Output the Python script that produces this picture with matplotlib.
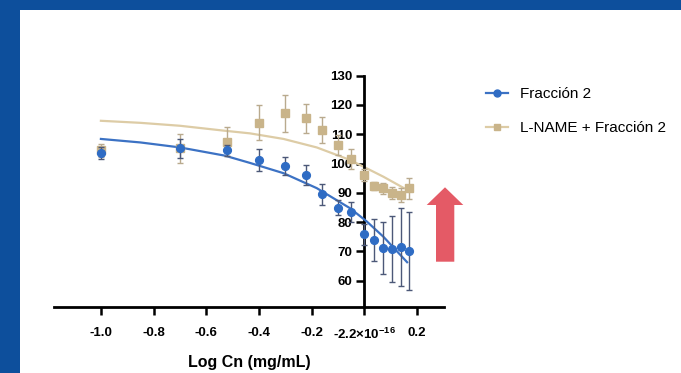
import matplotlib
matplotlib.use('Agg')
import matplotlib.pyplot as plt
from matplotlib.patches import Rectangle, Polygon
from matplotlib.lines import Line2D

plt.rcParams['font.family'] = ['Liberation Sans', 'DejaVu Sans']
plt.rcParams['mathtext.fontset'] = 'custom'
plt.rcParams['mathtext.rm'] = 'Liberation Sans:bold'
plt.rcParams['mathtext.it'] = 'Liberation Sans:bold'
plt.rcParams['mathtext.bf'] = 'Liberation Sans:bold'
plt.rcParams['axes.unicode_minus'] = False

# ---- data ----
log_conc = [-1.0, -0.7, -0.52, -0.4, -0.3, -0.22, -0.16, -0.1, -0.05, 0.0, 0.035, 0.072, 0.106, 0.138, 0.168]

fraccion2_mean = [103.6, 105.2, 104.6, 101.2, 99.2, 96.1, 89.5, 84.9, 83.6, 75.8, 73.9, 71.1, 70.8, 71.4, 70.2]
fraccion2_err = [2.0, 3.2, 1.9, 3.7, 3.1, 3.4, 3.5, 2.6, 3.4, 3.5, 7.1, 8.8, 11.3, 13.3, 13.4]

lname_mean = [104.5, 105.2, 107.5, 114.0, 117.2, 115.5, 111.5, 106.3, 101.5, 96.1, 92.3, 91.5, 90.0, 89.3, 91.5]
lname_err = [2.2, 4.9, 4.9, 6.1, 6.3, 5.0, 4.4, 3.5, 3.3, 2.0, 1.5, 2.0, 2.0, 2.5, 3.6]

# fitted curves
fraccion2_fit_x = [-1.0, -0.85, -0.7, -0.53, -0.434, -0.307, -0.181, -0.054, 0.009, 0.072, 0.162]
fraccion2_fit_y = [108.4, 107.2, 105.5, 102.7, 100.2, 96.7, 91.6, 84.7, 80.2, 75.0, 66.3]
lname_fit_x = [-1.0, -0.85, -0.7, -0.53, -0.434, -0.307, -0.181, -0.054, 0.072, 0.15]
lname_fit_y = [114.6, 113.9, 112.9, 111.2, 110.3, 108.4, 105.5, 101.2, 95.5, 91.6]

series_labels = ['Fracción 2', 'L-NAME + Fracción 2']
x_ticks = [-1.0, -0.8, -0.6, -0.4, -0.2, 0.0, 0.2]
x_tick_labels = ['-1.0', '-0.8', '-0.6', '-0.4', '-0.2', '-2.2×10$^{-16}$', '0.2']
y_ticks = [60, 70, 80, 90, 100, 110, 120, 130]
x_label = 'Log Cn (mg/mL)'

# ---- styling ----
W, H = 681, 373
BLUE = '#2f6cc4'
BLUE_LINE = '#3c72c4'
BLUE_ERR = '#4c5878'
TAN = '#c9b48a'
TAN_LINE = '#ddcca6'
TAN_ERR = '#b9aa8e'

fig = plt.figure(figsize=(W / 100, H / 100), dpi=100)
fig.patch.set_facecolor('#0d4f9c')
fig.patches.append(Rectangle((20 / W, 0), 1 - 20 / W, 1 - 10 / H, transform=fig.transFigure,
                             facecolor='white', edgecolor='none', zorder=-10))

ax = fig.add_axes([54 / W, 1 - 306.7 / H, 390 / W, (306.7 - 75.7) / H])
ax.set_zorder(2)
ax.set_facecolor('none')
ax.set_xlim(-1.178, 0.302)
ax.set_ylim(51.1, 130)

for s in ['top', 'right']:
    ax.spines[s].set_visible(False)
ax.spines['left'].set_position(('data', 0))
ax.spines['left'].set_linewidth(2.0)
ax.spines['bottom'].set_linewidth(2.0)

ax.set_xticks(x_ticks)
ax.set_xticklabels(x_tick_labels, fontsize=9.5, fontweight='bold')
ax.set_yticks(y_ticks)
ax.set_yticklabels([str(v) for v in y_ticks], fontsize=9.5, fontweight='bold')
ax.tick_params(axis='x', direction='out', length=6, width=1.8, pad=8.5)
ax.tick_params(axis='y', direction='out', length=6, width=1.8, pad=2.5)
ax.set_xlabel(x_label, fontsize=11.5, fontweight='bold', labelpad=9.5)

# curves
ax.plot(lname_fit_x, lname_fit_y, color=TAN_LINE, lw=1.6, zorder=2, clip_on=False)
ax.plot(fraccion2_fit_x, fraccion2_fit_y, color=BLUE_LINE, lw=1.6, zorder=3, clip_on=False)

# L-NAME points
ax.errorbar(log_conc, lname_mean, yerr=lname_err, fmt='none', ecolor=TAN_ERR,
            elinewidth=1.0, capsize=2.3, capthick=1.0, zorder=4, clip_on=False)
ax.plot(log_conc, lname_mean, 's', color=TAN, ms=5.8, mec=TAN, zorder=5, clip_on=False)

# Fraccion 2 points
ax.errorbar(log_conc, fraccion2_mean, yerr=fraccion2_err, fmt='none', ecolor=BLUE_ERR,
            elinewidth=1.0, capsize=2.3, capthick=1.0, zorder=6, clip_on=False)
ax.plot(log_conc, fraccion2_mean, 'o', color=BLUE, ms=5.6, mec=BLUE, zorder=7, clip_on=False)

# legend
handles = [Line2D([], [], color=BLUE_LINE, lw=1.6, marker='o', ms=5, mfc=BLUE, mec=BLUE),
           Line2D([], [], color=TAN_LINE, lw=1.6, marker='s', ms=5, mfc=TAN, mec=TAN)]
fig.legend(handles, series_labels, loc='center left', bbox_to_anchor=(486 / W, 1 - 111.3 / H),
           frameon=False, fontsize=11, handlelength=1.45, handletextpad=0.75,
           labelspacing=1.3, borderpad=0, borderaxespad=0)

# red arrow
arrow_px = [(436, 261.7), (454.3, 261.7), (454.3, 205), (463.3, 205), (445, 187.3),
            (426.7, 205), (436, 205)]
fig.patches.append(Polygon([(x / W, 1 - y / H) for x, y in arrow_px], closed=True,
                           transform=fig.transFigure, facecolor='#e45a66', edgecolor='none', zorder=1))

fig.savefig('out.png', dpi=100, facecolor=fig.get_facecolor())
